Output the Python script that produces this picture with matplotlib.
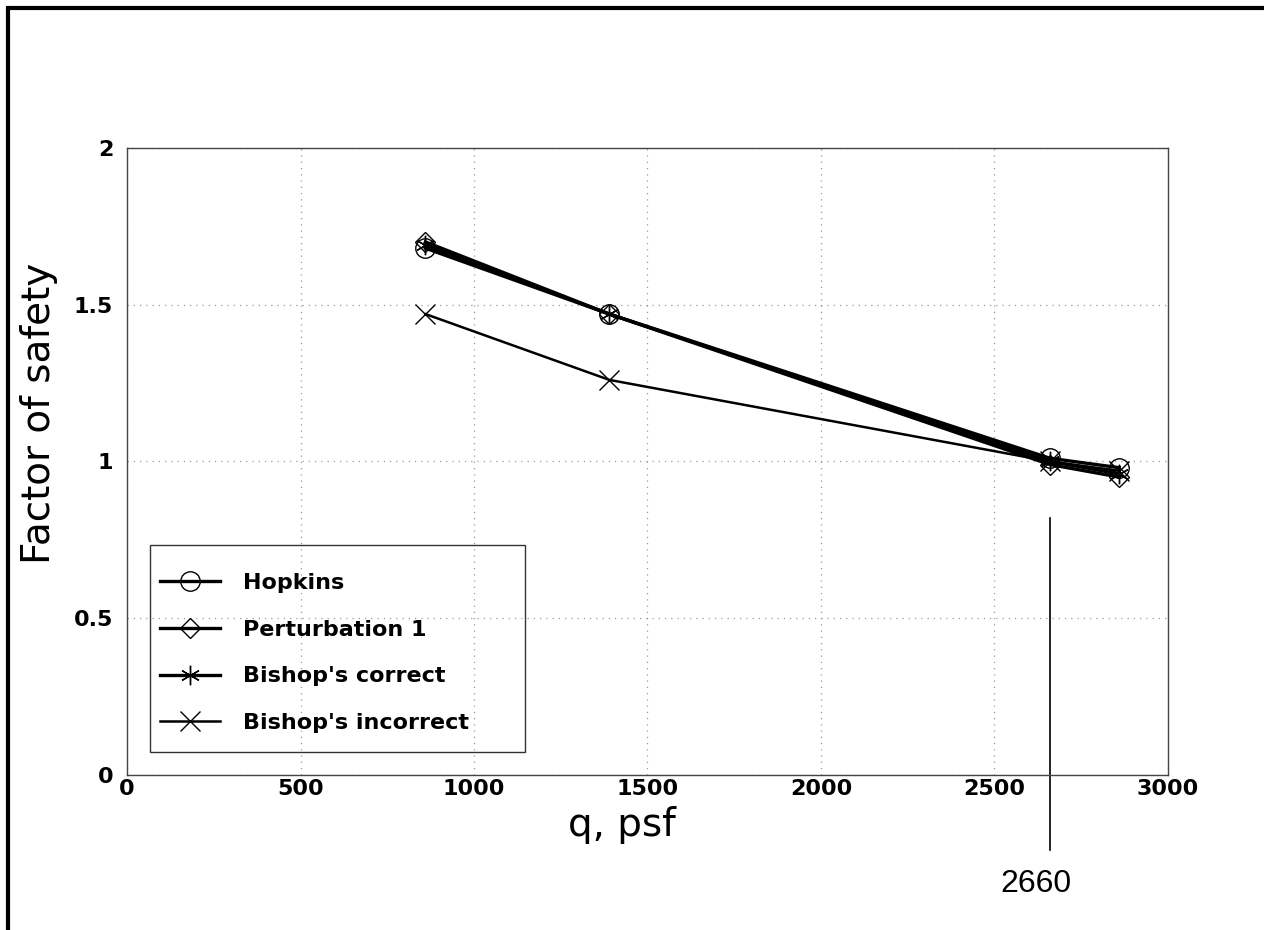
import matplotlib
matplotlib.use("Agg")
import matplotlib.pyplot as plt
from matplotlib.patches import Rectangle

plt.rcParams['font.family'] = ['DejaVu Sans']

q = [860, 1390, 2660, 2860]
hopkins = [1.68, 1.47, 1.01, 0.98]
perturbation = [1.70, 1.47, 0.99, 0.95]
bishop_correct = [1.69, 1.47, 1.00, 0.96]
bishop_incorrect = [1.47, 1.26, 1.00, 0.97]
series_labels = ["Hopkins", "Perturbation 1", "Bishop's correct", "Bishop's incorrect"]
xticks = [0, 500, 1000, 1500, 2000, 2500, 3000]
yticks = [0, 0.5, 1, 1.5, 2]
ytick_labels = ["0", "0.5", "1", "1.5", "2"]
marker_q = 2660
marker_top = 0.82

W, H = 1264, 930
fig = plt.figure(figsize=(W / 100, H / 100), dpi=100)
ax = fig.add_axes([0.1005, 0.1667, 0.8235, 0.6743])

ax.plot(q, hopkins, color='black', lw=2.4, marker='o', ms=14, mfc='none', mec='black', mew=1.0, label=series_labels[0])
ax.plot(q, perturbation, color='black', lw=2.4, marker='D', ms=10, mfc='none', mec='black', mew=1.0, label=series_labels[1])
ax.plot(q, bishop_correct, color='black', lw=2.4, marker=(6, 2, 0), ms=14, mfc='none', mec='black', mew=1.0, label=series_labels[2])
ax.plot(q, bishop_incorrect, color='black', lw=1.8, marker='x', ms=15, mfc='none', mec='black', mew=1.0, label=series_labels[3])

ax.set_xlim(0, 3000)
ax.set_ylim(0, 2)
ax.set_xticks(xticks)
ax.set_yticks(yticks)
ax.set_yticklabels(ytick_labels)
ax.tick_params(axis='x', length=0, pad=3, labelsize=16)
ax.tick_params(axis='y', length=0, pad=10, labelsize=16)
for lab in ax.get_xticklabels() + ax.get_yticklabels():
    lab.set_fontweight('bold')
ax.grid(True, color='#999999', linestyle=(0, (1, 4)), lw=0.9)
for s in ax.spines.values():
    s.set_linewidth(1.0)
    s.set_color('#444444')

ax.set_xlabel("q, psf", fontsize=28)
ax.xaxis.set_label_coords(0.475, -0.05, transform=ax.transAxes)
ax.xaxis.label.set_va('top')
ax.set_ylabel("Factor of safety", fontsize=28)
ax.yaxis.set_label_coords(-0.066, 0.577, transform=ax.transAxes)

# vertical marker line at 2660 extending below axes
ax.plot([marker_q, marker_q], [marker_top, -0.24], color='black', lw=1.2, clip_on=False)
ax.text(marker_q - 40, -0.30, str(marker_q), ha='center', va='top', fontsize=23,
        family=['Liberation Sans', 'DejaVu Sans'])

leg = ax.legend(loc='upper left', bbox_to_anchor=(160 / W, 1 - 573 / H),
                bbox_transform=fig.transFigure, fontsize=16, frameon=False,
                handlelength=2.7, borderpad=0, labelspacing=1.2, handletextpad=1.05,
                borderaxespad=0)
for t in leg.get_texts():
    t.set_fontweight('bold')
fig.patches.append(Rectangle((150 / W, 1 - 752 / H), 375 / W, 207 / H, transform=fig.transFigure,
                             fill=False, edgecolor='#333333', lw=1.0, zorder=3))

fig.patches.append(Rectangle((0.0063, -0.05), 1.1, 1.0414, transform=fig.transFigure,
                             fill=False, edgecolor='black', lw=3))

fig.savefig("out.png", dpi=100)
